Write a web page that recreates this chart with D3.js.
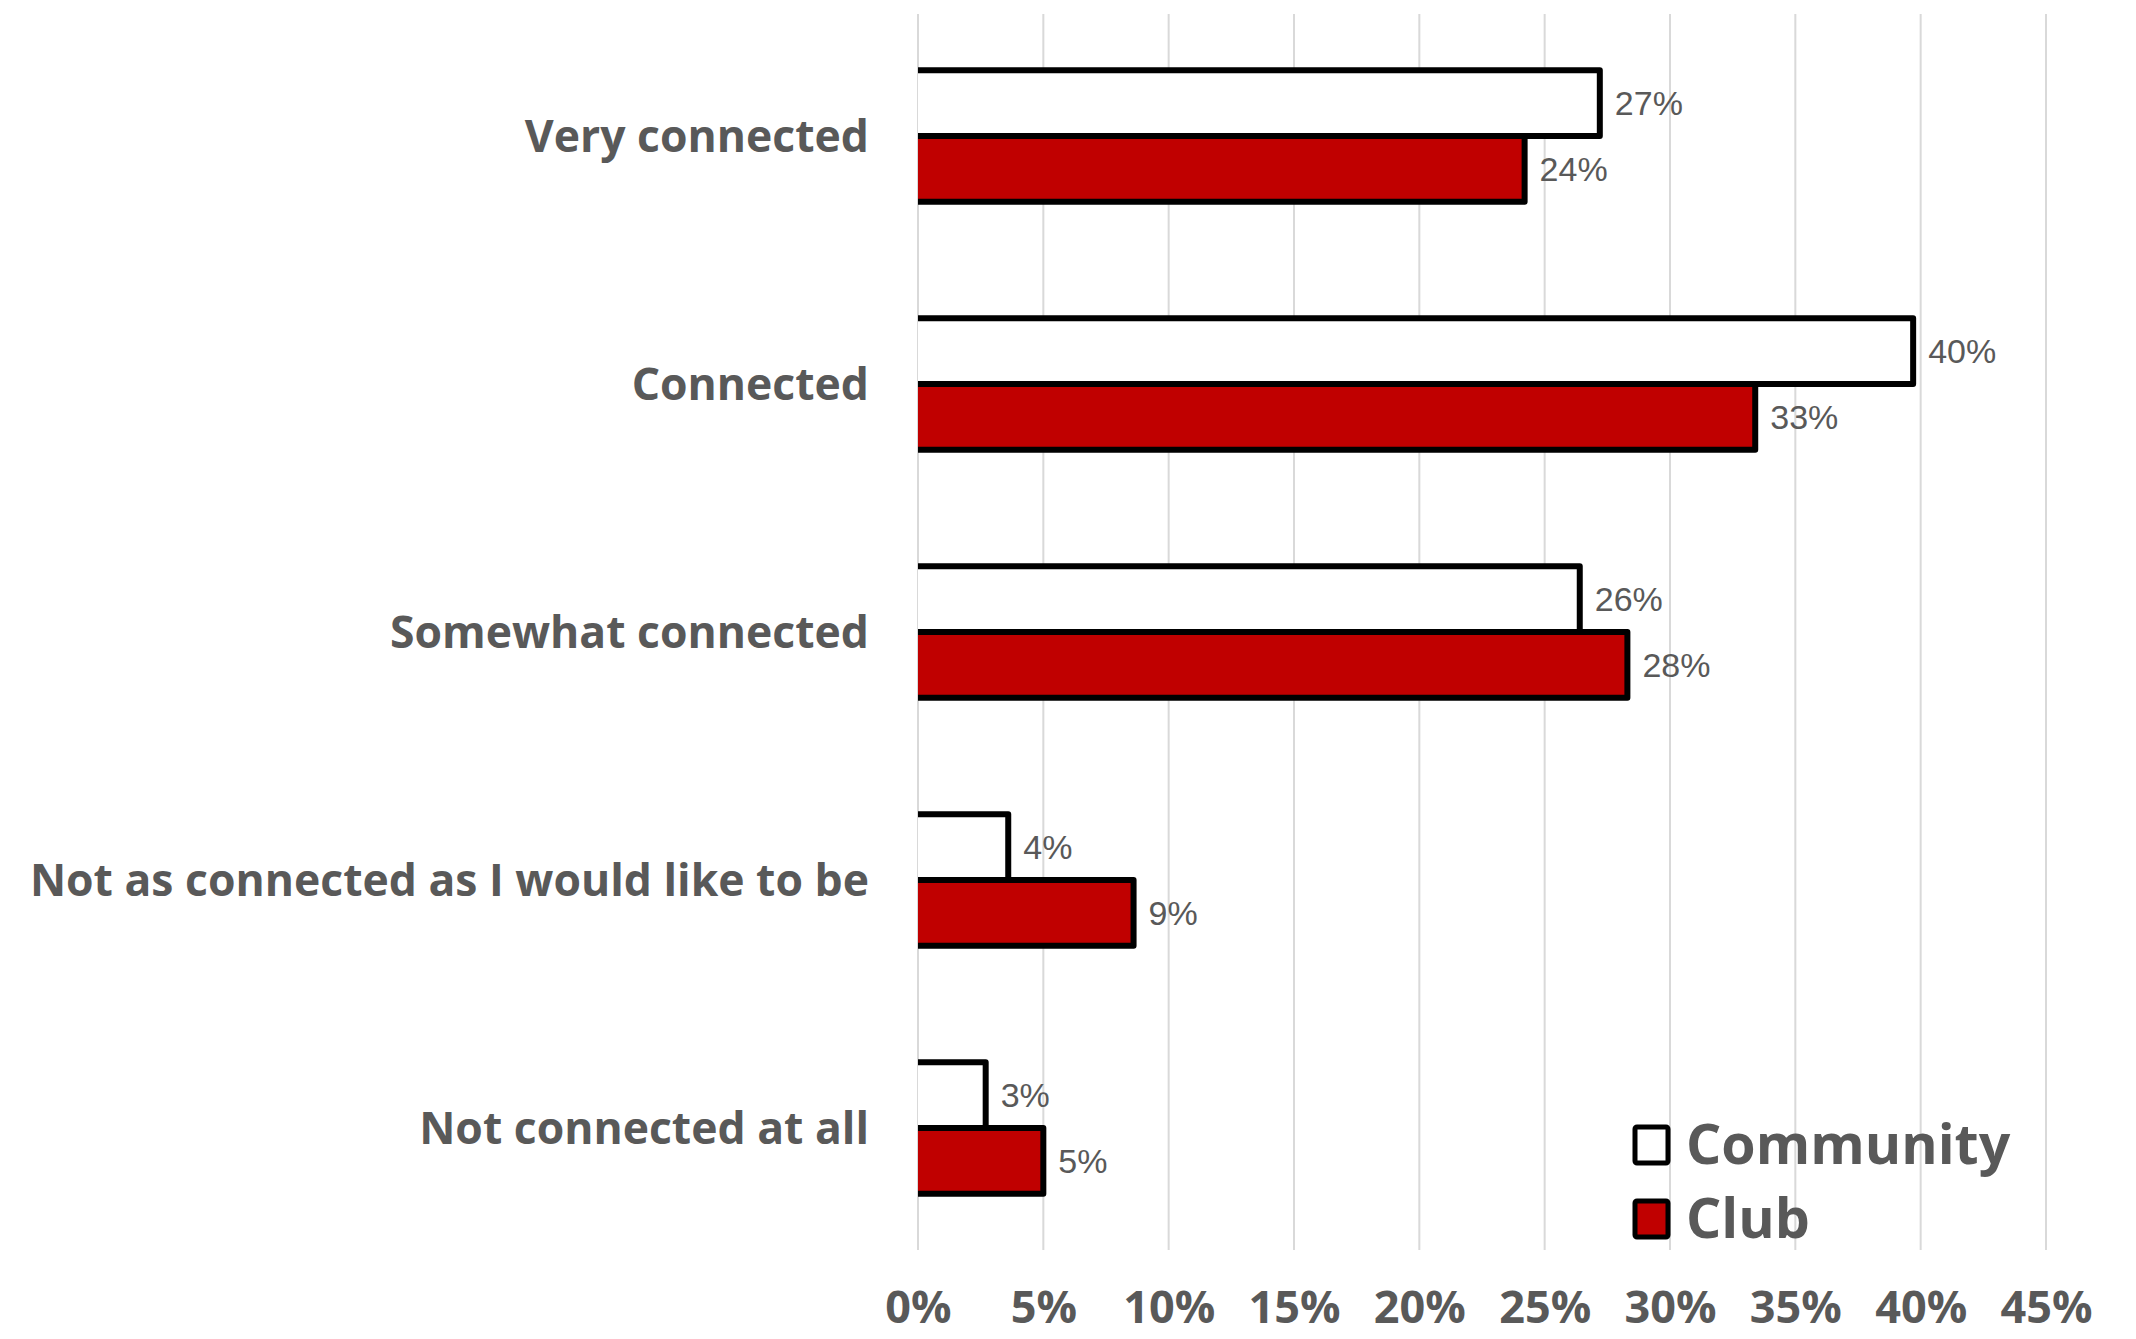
<!DOCTYPE html>
<html>
<head>
<meta charset="utf-8">
<script src="https://cdn.jsdelivr.net/npm/d3@7"></script>
<style>
  html, body { margin: 0; padding: 0; background: #ffffff; }
  svg { display: block; }
</style>
</head>
<body>
<svg id="chart" width="2136" height="1339"></svg>
<script>
// Survey responses: how connected people feel, by group
const categories = [
  "Very connected",
  "Connected",
  "Somewhat connected",
  "Not as connected as I would like to be",
  "Not connected at all"
];
const seriesNames = ["Community", "Club"];
const community = [0.272, 0.397, 0.264, 0.036, 0.027];
const club      = [0.242, 0.334, 0.283, 0.086, 0.050];
const xTicks = [0, 0.05, 0.10, 0.15, 0.20, 0.25, 0.30, 0.35, 0.40, 0.45];

const colors = { Community: "#ffffff", Club: "#c00000" };
const textGray = "#595959";

const rows = categories.map((c, i) => ({
  category: c,
  values: [
    { series: "Community", value: community[i] },
    { series: "Club", value: club[i] }
  ]
}));

const svg = d3.select("#chart");

const plot = { left: 918, right: 2046, top: 12, bottom: 1252 };

const x = d3.scaleLinear().domain([0, 0.45]).range([plot.left, plot.right]);
const y = d3.scaleBand().domain(categories).range([plot.top, plot.bottom])
  .paddingInner(0.47).paddingOuter(0.235);
const ySub = d3.scaleBand().domain(seriesNames).range([0, y.bandwidth()]);

// vertical gridlines
svg.append("g").selectAll("line").data(xTicks).join("line")
  .attr("x1", d => x(d)).attr("x2", d => x(d))
  .attr("y1", plot.top + 2).attr("y2", plot.bottom - 2)
  .attr("stroke", "#d9d9d9").attr("stroke-width", 2);

// x axis labels
const pct = d3.format(".0%");
const xAxis = d3.axisBottom(x).tickValues(xTicks).tickFormat(pct).tickSize(0).tickPadding(0);
const gx = svg.append("g").attr("transform", `translate(0, 1307)`).call(xAxis);
gx.select(".domain").remove();
gx.selectAll("text")
  .attr("dy", "0.35em").attr("y", 0)
  .attr("fill", textGray)
  .style("font-family", "'Open Sans', sans-serif")
  .style("font-weight", 700)
  .style("font-size", "45px");

// category labels
svg.append("g").selectAll("text").data(categories).join("text")
  .attr("x", 869)
  .attr("y", d => y(d) + y.bandwidth() / 2)
  .attr("dy", "0.35em")
  .attr("text-anchor", "end")
  .attr("fill", textGray)
  .style("font-family", "'Open Sans', sans-serif")
  .style("font-weight", 700)
  .style("font-size", "44.5px")
  .text(d => d);

// bars
const groups = svg.append("g").selectAll("g").data(rows).join("g")
  .attr("transform", d => `translate(0, ${y(d.category)})`);

groups.selectAll("rect.fill").data(d => d.values).join("rect")
  .attr("class", "fill")
  .attr("x", x(0))
  .attr("y", d => ySub(d.series))
  .attr("width", d => x(d.value) - x(0))
  .attr("height", ySub.bandwidth())
  .attr("fill", d => colors[d.series]);

// outline on top, right and bottom edges
groups.selectAll("path.edge").data(d => d.values).join("path")
  .attr("class", "edge")
  .attr("d", d => {
    const y0 = ySub(d.series), y1 = y0 + ySub.bandwidth();
    return `M${x(0)},${y0}H${x(d.value)}V${y1}H${x(0)}`;
  })
  .attr("fill", "none")
  .attr("stroke", "#000")
  .attr("stroke-width", 6)
  .attr("stroke-linejoin", "round");

// value labels
groups.selectAll("text").data(d => d.values).join("text")
  .attr("x", d => x(d.value) + 15)
  .attr("y", d => ySub(d.series) + ySub.bandwidth() / 2)
  .attr("dy", "0.35em")
  .attr("fill", textGray)
  .style("font-family", "'Liberation Sans', Arial, sans-serif")
  .style("font-size", "34px")
  .text(d => pct(Math.round(d.value * 100) / 100));

// legend
const legend = svg.append("g").attr("transform", "translate(1633, 1125)");
const legItems = legend.selectAll("g").data(seriesNames).join("g")
  .attr("transform", (d, i) => `translate(0, ${i * 74})`);
legItems.append("rect")
  .attr("x", 2).attr("y", 2).attr("width", 33).attr("height", 36)
  .attr("fill", d => colors[d])
  .attr("stroke", "#000").attr("stroke-width", 5)
  .attr("rx", 2);
legItems.append("text")
  .attr("x", 53).attr("y", 20).attr("dy", "0.35em")
  .attr("fill", textGray)
  .style("font-family", "'Open Sans', sans-serif")
  .style("font-weight", 700)
  .style("font-size", "55.5px")
  .text(d => d);
</script>
</body>
</html>
